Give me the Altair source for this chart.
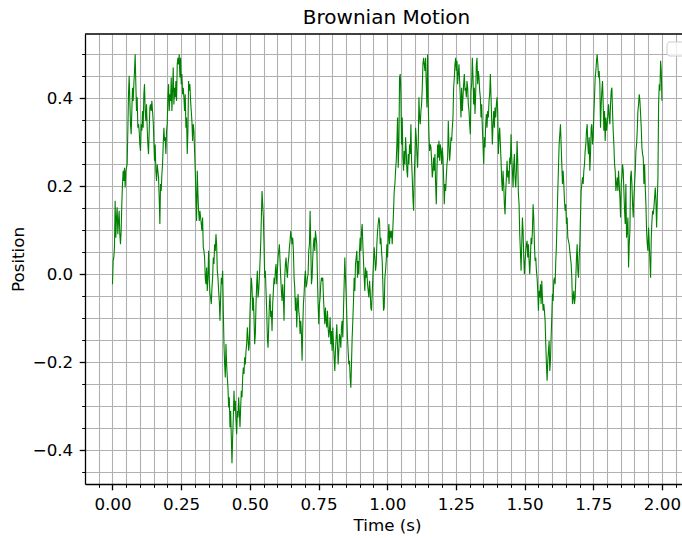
import numpy as np
import pandas as pd
import altair as alt

# Position of the particle, sampled on a uniform time grid from 0 to 2 s
pos_a = [
    -0.023, 0.030, 0.038, 0.061, 0.167, 0.083, 0.129, 0.152, 0.091, 0.121,
    0.144, 0.091, 0.068, 0.098, 0.159, 0.205, 0.235, 0.212, 0.242, 0.197,
    0.235, 0.242, 0.250, 0.326, 0.409, 0.451, 0.394, 0.341, 0.318, 0.371,
    0.424, 0.394, 0.432, 0.462, 0.500, 0.432, 0.371, 0.402, 0.333, 0.341,
    0.326, 0.295, 0.280, 0.341, 0.326, 0.371, 0.333, 0.409, 0.432, 0.371,
    0.348, 0.386, 0.333, 0.295, 0.273, 0.326, 0.379, 0.386, 0.371, 0.394,
    0.371, 0.348, 0.303, 0.258, 0.295, 0.235, 0.212, 0.250, 0.235, 0.220,
    0.174, 0.114, 0.205, 0.189, 0.227, 0.250, 0.295, 0.333, 0.303, 0.311,
    0.273, 0.326, 0.341, 0.402, 0.432, 0.371, 0.409, 0.394, 0.447, 0.371,
    0.417, 0.470, 0.386, 0.424, 0.402, 0.439, 0.394, 0.477, 0.492, 0.477,
    0.500, 0.447, 0.492, 0.432, 0.455, 0.409, 0.424, 0.402, 0.371, 0.409,
    0.333, 0.356, 0.273, 0.326, 0.439, 0.417, 0.432, 0.394, 0.371, 0.348,
    0.303, 0.341, 0.326, 0.280, 0.235, 0.174, 0.121, 0.235, 0.182, 0.144, 0.121,
]
pos_b = [
    0.144, 0.129, 0.114, 0.098, 0.129, 0.061, 0.053, 0.038, -0.008, -0.023,
    0.015, -0.038, -0.008, 0.053, -0.008, -0.045, -0.053, -0.068, -0.030, -0.008,
    0.038, 0.023, 0.068, 0.053, 0.091, 0.068, 0.008, -0.008, -0.038, -0.061,
    -0.106, -0.053, -0.008, -0.023, 0.008, -0.083, -0.159, -0.205, -0.235, -0.159,
    -0.205, -0.235, -0.258, -0.303, -0.280, -0.348, -0.311, -0.371, -0.430, -0.371,
    -0.326, -0.265, -0.311, -0.288, -0.333, -0.364, -0.311, -0.326, -0.280, -0.311,
    -0.348, -0.303, -0.265, -0.280, -0.235, -0.212, -0.227, -0.189, -0.205, -0.174,
    -0.159, -0.121, -0.144, -0.174, -0.159, -0.083, -0.045, -0.008, -0.030, -0.083,
    -0.053, -0.098, -0.159, -0.136, -0.068, -0.023, 0.008, -0.053, -0.038, -0.008,
    0.030, 0.068, 0.129, 0.189, 0.159, 0.129, 0.068, -0.008, 0.008, -0.038,
    -0.083, -0.144, -0.167, -0.121, -0.068, -0.045, -0.098, -0.083, -0.129, -0.068,
    -0.038, -0.008, -0.023, 0.008, 0.023, -0.023, 0.008, 0.038, 0.053, 0.068,
    0.030, -0.008, -0.038, -0.061, -0.023, -0.053, -0.106, -0.008, 0.023, 0.038,
    0.008, -0.008, 0.023, 0.038, 0.061, 0.076, 0.098, 0.083,
]
pos_c = [
    0.068, 0.083, 0.053, -0.008, -0.030, -0.083, -0.053, -0.121, -0.068, -0.045,
    -0.083, -0.098, -0.136, -0.106, -0.136, -0.197, -0.121, -0.068, -0.045, -0.008,
    0.008, -0.030, -0.023, -0.008, 0.000, 0.053, 0.068, 0.144, 0.068, -0.023,
    -0.008, 0.038, 0.068, 0.083, 0.053, 0.098, 0.083, 0.068, -0.008, -0.068,
    -0.114, -0.068, -0.053, -0.023, -0.008, -0.015, -0.008, -0.053, -0.083, -0.114,
    -0.076, -0.106, -0.121, -0.083, -0.121, -0.144, -0.129, -0.098, -0.159, -0.129,
    -0.174, -0.121, -0.159, -0.189, -0.220, -0.174, -0.144, -0.114, -0.159, -0.205,
    -0.174, -0.136, -0.144, -0.167, -0.121, -0.106, -0.144, -0.083, -0.023, 0.038,
    -0.008, -0.045, -0.098, -0.144, -0.174, -0.205, -0.197, -0.235, -0.258, -0.205,
    -0.144, -0.106, -0.061, -0.008, -0.038, 0.023, 0.038, 0.053, -0.008, 0.030,
    0.000, 0.053, 0.083, 0.053, 0.098, 0.114, 0.068, 0.030, -0.008, -0.038,
    0.015, -0.008, 0.008, -0.023, -0.038, -0.053, -0.015, -0.038, -0.076, -0.083,
    -0.045, -0.008, 0.030, 0.061, 0.038, 0.008, 0.023, 0.068, 0.098, 0.114,
    0.129, 0.121, 0.068, 0.083, 0.053, 0.030, -0.023, -0.083,
]
pos_d = [
    -0.076, -0.008, 0.008, 0.030, 0.068, 0.038, 0.083, 0.114, 0.068, 0.098,
    0.083, 0.098, 0.068, 0.106, 0.144, 0.189, 0.205, 0.235, 0.258, 0.295,
    0.356, 0.242, 0.295, 0.447, 0.455, 0.409, 0.295, 0.356, 0.265, 0.235,
    0.280, 0.250, 0.311, 0.280, 0.235, 0.220, 0.273, 0.250, 0.295, 0.273,
    0.341, 0.258, 0.220, 0.174, 0.144, 0.220, 0.265, 0.333, 0.311, 0.273,
    0.242, 0.295, 0.402, 0.356, 0.341, 0.371, 0.386, 0.424, 0.477, 0.492,
    0.477, 0.462, 0.492, 0.432, 0.379, 0.500, 0.386, 0.318, 0.280, 0.295,
    0.288, 0.258, 0.220, 0.235, 0.265, 0.235, 0.273, 0.205, 0.159, 0.235,
    0.295, 0.265, 0.303, 0.258, 0.295, 0.280, 0.250, 0.288, 0.265, 0.220,
    0.159, 0.205, 0.189, 0.220, 0.250, 0.265, 0.348, 0.295, 0.258, 0.280,
    0.311, 0.303, 0.333, 0.356, 0.424, 0.447, 0.477, 0.492, 0.462, 0.485,
    0.432, 0.455, 0.477, 0.439, 0.402, 0.356, 0.424, 0.371, 0.402, 0.432,
    0.455, 0.417, 0.424, 0.402, 0.439, 0.424, 0.386, 0.371, 0.341, 0.318,
    0.417, 0.432, 0.492, 0.447, 0.386, 0.424, 0.364, 0.409,
]
pos_e = [
    0.477, 0.492, 0.432, 0.462, 0.447, 0.417, 0.402, 0.356, 0.386, 0.333,
    0.295, 0.250, 0.311, 0.288, 0.341, 0.364, 0.333, 0.371, 0.356, 0.394,
    0.409, 0.455, 0.402, 0.348, 0.295, 0.341, 0.371, 0.333, 0.379, 0.356,
    0.386, 0.402, 0.371, 0.273, 0.311, 0.333, 0.295, 0.258, 0.212, 0.189,
    0.235, 0.205, 0.159, 0.136, 0.189, 0.220, 0.258, 0.220, 0.235, 0.205,
    0.265, 0.250, 0.318, 0.265, 0.235, 0.197, 0.250, 0.273, 0.220, 0.197,
    0.235, 0.303, 0.258, 0.182, 0.159, 0.091, 0.053, 0.008, 0.068, 0.129,
    0.098, 0.038, 0.000, 0.030, 0.053, 0.068, 0.076, 0.038, 0.068, 0.030,
    0.000, 0.038, 0.083, 0.068, 0.098, 0.159, 0.129, 0.068, 0.030, 0.038,
    0.008, -0.008, -0.038, -0.083, -0.038, -0.053, -0.023, -0.068, -0.015, -0.053,
    -0.083, -0.068, -0.083, -0.106, -0.159, -0.205, -0.242, -0.197, -0.174, -0.152,
    -0.220, -0.197, -0.144, -0.098, -0.045, -0.061, -0.015, -0.008, -0.023, 0.030,
    0.068, 0.129, 0.189, 0.242, 0.295, 0.318, 0.341, 0.295, 0.250, 0.205,
    0.235, 0.205, 0.167, 0.144, 0.159, 0.114, 0.129, 0.083,
]
pos_f = [
    0.076, 0.068, 0.053, 0.038, 0.023, -0.008, -0.068, -0.053, -0.038, -0.068,
    -0.053, -0.008, 0.038, 0.068, 0.008, -0.008, 0.038, 0.068, 0.129, 0.189,
    0.205, 0.220, 0.205, 0.235, 0.250, 0.280, 0.295, 0.326, 0.341, 0.295,
    0.273, 0.311, 0.235, 0.273, 0.333, 0.341, 0.295, 0.311, 0.364, 0.402,
    0.447, 0.462, 0.485, 0.500, 0.477, 0.447, 0.462, 0.432, 0.333, 0.386,
    0.417, 0.439, 0.386, 0.326, 0.371, 0.303, 0.356, 0.326, 0.341, 0.364,
    0.386, 0.356, 0.341, 0.386, 0.417, 0.424, 0.371, 0.326, 0.295, 0.250,
    0.235, 0.189, 0.205, 0.220, 0.189, 0.235, 0.205, 0.174, 0.129, 0.205,
    0.220, 0.250, 0.235, 0.189, 0.144, 0.114, 0.205, 0.083, 0.098, 0.129,
    0.015, 0.068, 0.098, 0.220, 0.235, 0.205, 0.159, 0.129, 0.174, 0.205,
    0.235, 0.280, 0.295, 0.326, 0.371, 0.386, 0.409, 0.394, 0.364, 0.333,
    0.288, 0.273, 0.265, 0.205, 0.250, 0.197, 0.159, 0.098, 0.068, 0.053,
    0.106, 0.068, 0.030, -0.008, 0.083, 0.121, 0.144, 0.136, 0.152, 0.174,
    0.197, 0.167, 0.106, 0.167, 0.220, 0.386, 0.432, 0.417, 0.485, 0.462, 0.394,
]

position = pos_a + pos_b + pos_c + pos_d + pos_e + pos_f
time = np.linspace(0.0, 2.0, len(position))
df = pd.DataFrame({"time": time, "position": position})

FONT = "DejaVu Sans"
W, H = 597, 450
X_DOMAIN = [-0.1, 2.073]
Y_DOMAIN = [-0.477, 0.546]

# minor ticks every 0.05, major ticks every 0.25 (x) and 0.2 (y)
x_ticks = [round(i * 0.05, 2) for i in range(-1, 42)]
y_ticks = [round(i * 0.05, 2) for i in range(-9, 11)]
x_major = "abs(datum.value * 4 - round(datum.value * 4)) < 0.001"
y_major = "abs(datum.value * 5 - round(datum.value * 5)) < 0.001"

common_axis = dict(
    grid=True,
    gridColor="#b0b0b0",
    gridWidth=1.1,
    domainColor="black",
    domainWidth=1.3,
    tickColor="black",
    labelFont=FONT,
    labelFontSize=16.7,
    labelColor="black",
    labelPadding=6.5,
    labelOverlap=False,
    labelFlush=False,
    labelBound=False,
    titleFont=FONT,
    titleFontSize=16.7,
    titleFontWeight="normal",
    titleColor="black",
)

x_axis = alt.Axis(
    values=x_ticks,
    tickSize={"condition": {"test": x_major, "value": 5.8}, "value": 3.3},
    tickWidth={"condition": {"test": x_major, "value": 1.3}, "value": 1.0},
    labelExpr=f"{x_major} ? format(datum.value, '.2f') : ''",
    title="Time (s)",
    titlePadding=4,
    titleX=302,
    **common_axis,
)
y_axis = alt.Axis(
    values=y_ticks,
    tickSize={"condition": {"test": y_major, "value": 5.8}, "value": 3.3},
    tickWidth={"condition": {"test": y_major, "value": 1.3}, "value": 1.0},
    labelExpr=f"{y_major} ? replace(format(datum.value, '.1f'), '-', '\u2212') : ''",
    title="Position",
    titlePadding=5,
    **common_axis,
)

line = (
    alt.Chart(df)
    .mark_line(color="#008000", strokeWidth=1.1, clip=True)
    .encode(
        x=alt.X("time:Q", scale=alt.Scale(domain=X_DOMAIN, nice=False, zero=False), axis=x_axis),
        y=alt.Y("position:Q", scale=alt.Scale(domain=Y_DOMAIN, nice=False, zero=False), axis=y_axis),
    )
)

one_row = pd.DataFrame({"k": [0]})

# upper spine of the axes frame
top_spine = (
    alt.Chart(one_row)
    .mark_rule(color="black", strokeWidth=1.3)
    .encode(x=alt.value(0), x2=alt.value(W), y=alt.value(0))
)

# empty legend frame in the upper right corner
legend_frame = (
    alt.Chart(one_row)
    .mark_rect(cornerRadius=3, fill="white", fillOpacity=0.8, stroke="#cccccc", strokeWidth=1)
    .encode(x=alt.value(582), x2=alt.value(625), y=alt.value(8), y2=alt.value(22))
)

chart = (
    alt.layer(line, top_spine, legend_frame)
    .properties(
        width=W,
        height=H,
        autosize="none",
        padding={"left": 85, "top": 34, "right": 0, "bottom": 54},
        background="white",
        title=alt.TitleParams(
            "Brownian Motion",
            font=FONT,
            fontSize=20,
            fontWeight="normal",
            color="black",
            anchor="middle",
            dx=3,
            dy=20,
            offset=9,
            baseline="alphabetic",
        ),
    )
    .configure_view(stroke=None)
)

chart.save("out.html", embed_options={"renderer": "svg", "actions": False})
